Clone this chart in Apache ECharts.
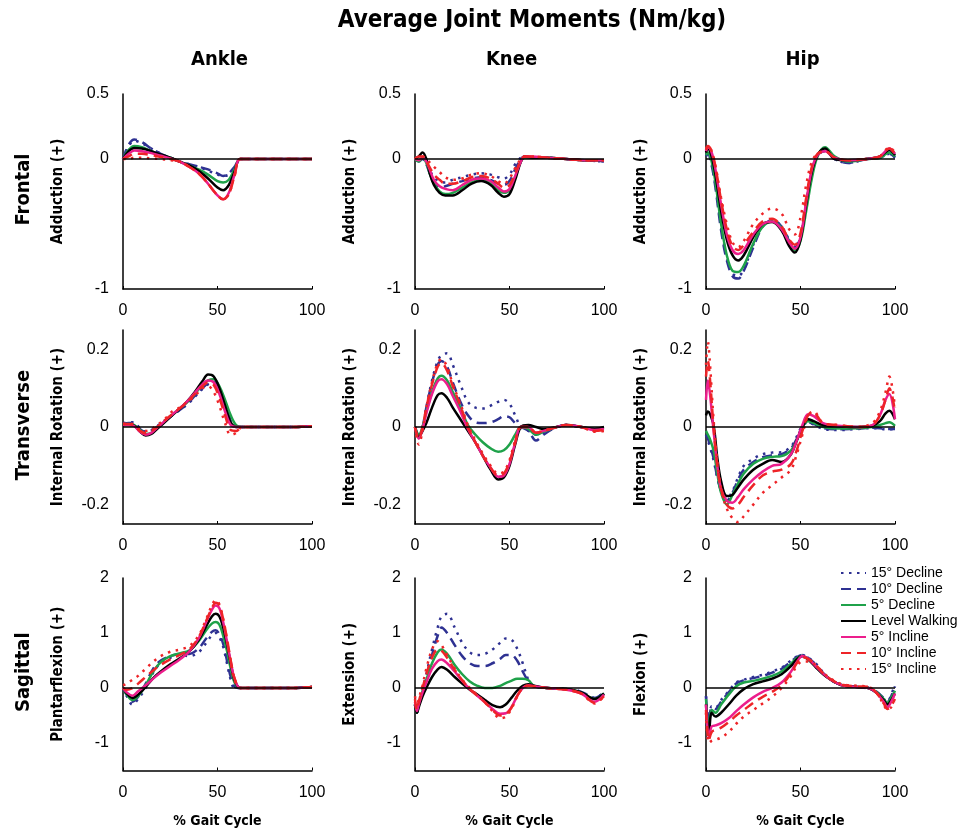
<!DOCTYPE html>
<html>
<head>
<meta charset="utf-8">
<script src="https://cdn.jsdelivr.net/npm/echarts@6/dist/echarts.min.js"></script>
<style>
html, body { margin: 0; padding: 0; background: #fff; }
#chart { width: 970px; height: 832px; }
</style>
</head>
<body>
<div id="chart"></div>
<script>
var dom = document.getElementById("chart");
var myChart = echarts.init(dom);

// series order in every panel
var seriesNames = ['15° Decline', '10° Decline', '5° Decline', 'Level Walking', '5° Incline', '10° Incline', '15° Incline'];

// ---- Ankle, frontal
var xAnkleFrontal = [0, 3, 6, 10, 15, 20, 25, 30, 35, 40, 45, 50, 53, 56, 59, 62, 70, 80, 90, 100];
var ankleFrontal = [
    [0, 0.1, 0.14, 0.12, 0.08, 0.04, 0.01, -0.02, -0.04, -0.06, -0.09, -0.12, -0.13, -0.12, -0.07, 0, 0, 0, 0, 0],
    [0, 0.11, 0.15, 0.13, 0.08, 0.04, 0.01, -0.02, -0.04, -0.06, -0.08, -0.11, -0.13, -0.11, -0.06, 0, 0, 0, 0, 0],
    [0, 0.07, 0.10, 0.09, 0.06, 0.03, 0.01, -0.02, -0.05, -0.08, -0.12, -0.17, -0.18, -0.16, -0.08, 0, 0, 0, 0, 0],
    [0, 0.06, 0.085, 0.08, 0.06, 0.035, 0.01, -0.02, -0.05, -0.09, -0.15, -0.22, -0.24, -0.2, -0.1, 0, 0, 0, 0, 0],
    [0, 0.04, 0.065, 0.06, 0.045, 0.025, 0.005, -0.02, -0.06, -0.11, -0.19, -0.28, -0.31, -0.26, -0.12, 0, 0, 0, 0, 0],
    [0, 0.02, 0.04, 0.04, 0.03, 0.015, 0, -0.02, -0.06, -0.11, -0.19, -0.28, -0.31, -0.27, -0.13, 0, 0, 0, 0, 0],
    [0, 0, 0.01, 0.01, 0.005, 0, -0.01, -0.02, -0.06, -0.11, -0.19, -0.28, -0.31, -0.27, -0.13, 0, 0, 0, 0, 0]
];

// ---- Knee, frontal
var xKneeFrontal = [0, 2, 4, 6, 8, 10, 13, 16, 20, 25, 30, 35, 40, 44, 47, 50, 53, 56, 58, 62, 70, 80, 90, 100];
var kneeFrontal = [
    [0, -0.01, 0, -0.03, -0.09, -0.14, -0.17, -0.18, -0.16, -0.14, -0.12, -0.11, -0.12, -0.14, -0.15, -0.12, -0.04, 0.01, 0.02, 0.01, 0.01, 0, -0.01, -0.02],
    [0, -0.02, 0, -0.04, -0.12, -0.18, -0.22, -0.21, -0.19, -0.17, -0.15, -0.14, -0.16, -0.19, -0.2, -0.17, -0.08, 0, 0.02, 0.01, 0.01, 0, -0.01, -0.02],
    [0, -0.02, 0.01, -0.03, -0.12, -0.19, -0.25, -0.27, -0.26, -0.22, -0.18, -0.16, -0.19, -0.24, -0.26, -0.24, -0.14, -0.02, 0.01, 0.01, 0.01, 0, -0.01, -0.01],
    [0, 0.02, 0.05, 0, -0.12, -0.2, -0.26, -0.28, -0.28, -0.24, -0.19, -0.17, -0.2, -0.26, -0.29, -0.27, -0.16, -0.02, 0.02, 0.01, 0.01, 0, -0.01, -0.01],
    [0, -0.01, 0.01, -0.02, -0.09, -0.16, -0.21, -0.23, -0.24, -0.2, -0.16, -0.15, -0.17, -0.22, -0.25, -0.23, -0.13, -0.02, 0.02, 0.02, 0.01, 0, -0.01, -0.01],
    [0, 0.02, 0.02, -0.02, -0.07, -0.12, -0.16, -0.19, -0.19, -0.17, -0.14, -0.13, -0.15, -0.19, -0.22, -0.2, -0.11, -0.01, 0.02, 0.02, 0.01, 0, -0.01, -0.01],
    [0, 0.02, 0.02, 0, -0.03, -0.06, -0.1, -0.14, -0.16, -0.15, -0.12, -0.11, -0.13, -0.17, -0.19, -0.15, -0.07, 0, 0.02, 0.02, 0.01, 0, -0.01, -0.01]
];

// ---- Hip, frontal
var xHipFrontal = [0, 1, 3, 5, 8, 11, 14, 17, 20, 25, 30, 35, 40, 44, 47, 50, 53, 56, 59, 63, 68, 75, 85, 92, 97, 100];
var hipFrontal = [
    [0.03, 0.05, -0.04, -0.2, -0.52, -0.76, -0.88, -0.9, -0.85, -0.66, -0.51, -0.47, -0.52, -0.62, -0.67, -0.6, -0.35, -0.1, 0.03, 0.06, 0, -0.03, 0, 0.01, 0.04, 0.01],
    [0.02, 0.04, -0.05, -0.22, -0.55, -0.78, -0.9, -0.92, -0.86, -0.68, -0.52, -0.47, -0.52, -0.63, -0.68, -0.6, -0.35, -0.1, 0.03, 0.06, 0, -0.03, 0, 0.01, 0.04, 0.01],
    [0.03, 0.05, -0.02, -0.18, -0.5, -0.74, -0.86, -0.87, -0.82, -0.65, -0.52, -0.48, -0.53, -0.64, -0.7, -0.63, -0.4, -0.15, 0.02, 0.09, 0.02, -0.02, 0, 0.01, 0.05, 0.02],
    [0.05, 0.08, 0.02, -0.12, -0.4, -0.62, -0.74, -0.78, -0.74, -0.6, -0.5, -0.485, -0.55, -0.67, -0.72, -0.62, -0.35, -0.1, 0.03, 0.08, 0, -0.01, 0, 0.02, 0.07, 0.03],
    [0.06, 0.09, 0.05, -0.08, -0.35, -0.58, -0.7, -0.73, -0.7, -0.58, -0.5, -0.48, -0.54, -0.64, -0.69, -0.6, -0.33, -0.08, 0.03, 0.06, 0.01, -0.01, 0, 0.02, 0.08, 0.04],
    [0.07, 0.1, 0.06, -0.06, -0.32, -0.54, -0.67, -0.7, -0.66, -0.56, -0.48, -0.46, -0.52, -0.62, -0.66, -0.57, -0.3, -0.06, 0.04, 0.06, 0.01, -0.01, 0, 0.02, 0.08, 0.04],
    [0.08, 0.1, 0.06, -0.05, -0.3, -0.5, -0.64, -0.68, -0.63, -0.5, -0.42, -0.38, -0.42, -0.54, -0.58, -0.45, -0.2, -0.02, 0.04, 0.06, 0.01, -0.01, 0, 0.02, 0.09, 0.05]
];

// ---- Ankle, transverse
var xAnkleTransverse = [0, 3, 6, 9, 12, 15, 18, 22, 26, 30, 34, 38, 42, 45, 48, 51, 54, 57, 60, 63, 70, 80, 90, 100];
var ankleTransverse = [
    [0.01, 0.012, 0.012, -0.004, -0.012, -0.008, 0.002, 0.016, 0.03, 0.044, 0.058, 0.078, 0.098, 0.11, 0.113, 0.095, 0.055, 0.015, 0, 0, 0, 0, 0, 0.002],
    [0.008, 0.01, 0.01, -0.005, -0.014, -0.01, 0, 0.015, 0.03, 0.044, 0.06, 0.08, 0.1, 0.112, 0.116, 0.1, 0.06, 0.02, 0.002, 0, 0, 0, 0, 0.002],
    [0.005, 0.008, 0.005, -0.008, -0.018, -0.015, -0.003, 0.014, 0.031, 0.047, 0.064, 0.085, 0.108, 0.12, 0.123, 0.105, 0.07, 0.03, 0.004, 0, 0, 0, 0, 0.002],
    [0.005, 0.005, 0.003, -0.012, -0.022, -0.018, -0.005, 0.012, 0.03, 0.047, 0.066, 0.09, 0.118, 0.135, 0.13, 0.1, 0.055, 0.012, 0, 0, 0, 0, 0, 0.002],
    [0.005, 0.005, 0.002, -0.012, -0.02, -0.015, -0.002, 0.015, 0.032, 0.048, 0.066, 0.088, 0.11, 0.12, 0.115, 0.085, 0.04, 0.005, 0, 0, 0, 0, 0, 0.002],
    [0.008, 0.008, 0.003, -0.01, -0.016, -0.01, 0, 0.017, 0.033, 0.048, 0.064, 0.085, 0.105, 0.115, 0.108, 0.075, 0.03, -0.008, -0.01, 0, 0, 0, 0, 0.002],
    [0.008, 0.01, 0.005, -0.005, -0.01, -0.005, 0.005, 0.02, 0.04, 0.05, 0.065, 0.08, 0.1, 0.105, 0.09, 0.055, 0.01, -0.02, -0.015, 0, 0, 0, 0, 0.002]
];

// ---- Knee, transverse
var xKneeTransverse = [0, 2, 4, 6, 9, 12, 14, 17, 20, 24, 28, 32, 36, 40, 44, 47, 50, 53, 56, 60, 64, 68, 75, 80, 88, 95, 100];
var kneeTransverse = [
    [0, -0.02, 0, 0.05, 0.12, 0.17, 0.185, 0.19, 0.16, 0.11, 0.065, 0.05, 0.048, 0.055, 0.065, 0.07, 0.06, 0.03, 0, -0.01, -0.02, -0.015, 0, 0.005, 0, -0.005, -0.005],
    [0, -0.02, 0, 0.05, 0.115, 0.16, 0.17, 0.155, 0.115, 0.065, 0.03, 0.012, 0.01, 0.012, 0.02, 0.028, 0.025, 0.01, 0, -0.01, -0.035, -0.02, 0, 0.005, 0, -0.005, -0.005],
    [0, -0.02, 0, 0.04, 0.09, 0.125, 0.132, 0.12, 0.09, 0.05, 0.005, -0.02, -0.04, -0.055, -0.064, -0.06, -0.045, -0.02, 0, -0.005, -0.02, -0.012, 0, 0.005, 0, -0.005, -0.005],
    [0, -0.025, -0.01, 0.01, 0.05, 0.082, 0.087, 0.075, 0.05, 0.02, -0.01, -0.04, -0.075, -0.11, -0.135, -0.13, -0.1, -0.045, 0, 0.005, 0, -0.005, 0, 0.005, 0, -0.005, 0],
    [0, -0.03, -0.005, 0.035, 0.085, 0.118, 0.123, 0.11, 0.08, 0.04, -0.005, -0.04, -0.075, -0.105, -0.128, -0.125, -0.095, -0.04, 0, 0, -0.015, -0.01, 0, 0.005, 0, -0.008, -0.005],
    [0, -0.03, 0, 0.05, 0.11, 0.155, 0.165, 0.145, 0.105, 0.055, 0, -0.04, -0.075, -0.105, -0.125, -0.12, -0.09, -0.04, 0, 0, -0.015, -0.01, 0, 0.005, 0, -0.01, -0.008],
    [0, -0.045, -0.01, 0.05, 0.115, 0.165, 0.175, 0.155, 0.11, 0.06, 0.005, -0.035, -0.07, -0.1, -0.12, -0.115, -0.085, -0.035, 0, 0, -0.015, -0.01, 0, 0.005, 0, -0.012, -0.01]
];

// ---- Hip, transverse
var xHipTransverse = [0, 1, 2, 4, 6, 8, 11, 14, 17, 20, 25, 30, 35, 40, 45, 48, 51, 54, 57, 62, 70, 80, 88, 92, 95, 97, 100];
var hipTransverse = [
    [-0.02, -0.035, -0.05, -0.085, -0.13, -0.16, -0.185, -0.165, -0.13, -0.1, -0.082, -0.07, -0.066, -0.065, -0.05, -0.025, 0.003, 0.012, 0.006, -0.005, -0.008, -0.005, -0.003, -0.004, -0.006, -0.006, -0.006],
    [-0.02, -0.03, -0.045, -0.08, -0.13, -0.165, -0.19, -0.17, -0.135, -0.11, -0.09, -0.078, -0.073, -0.07, -0.055, -0.03, 0, 0.012, 0.008, -0.003, -0.006, -0.004, -0.002, -0.003, -0.005, -0.005, -0.005],
    [-0.01, -0.02, -0.03, -0.06, -0.12, -0.17, -0.2, -0.175, -0.145, -0.12, -0.095, -0.082, -0.077, -0.075, -0.06, -0.035, 0, 0.015, 0.01, 0, -0.004, -0.003, 0, 0.005, 0.01, 0.012, 0.003],
    [0.03, 0.04, 0.035, 0.005, -0.08, -0.14, -0.178, -0.175, -0.155, -0.135, -0.11, -0.095, -0.085, -0.09, -0.07, -0.035, 0, 0.02, 0.015, 0.005, 0.002, 0, 0.003, 0.015, 0.035, 0.042, 0.02],
    [0.07, 0.12, 0.09, -0.01, -0.1, -0.16, -0.19, -0.195, -0.18, -0.16, -0.135, -0.115, -0.1, -0.095, -0.07, -0.035, 0.005, 0.033, 0.028, 0.01, 0.003, 0, 0.005, 0.03, 0.07, 0.085, 0.02],
    [0.13, 0.17, 0.13, 0, -0.1, -0.16, -0.2, -0.21, -0.2, -0.18, -0.15, -0.125, -0.115, -0.11, -0.095, -0.06, -0.01, 0.03, 0.035, 0.01, 0.005, 0, 0.005, 0.03, 0.07, 0.1, 0.04],
    [0.16, 0.22, 0.17, 0.02, -0.09, -0.16, -0.21, -0.235, -0.245, -0.23, -0.2, -0.17, -0.15, -0.13, -0.11, -0.07, -0.02, 0.03, 0.04, 0.01, 0.005, 0, 0.01, 0.04, 0.09, 0.13, 0.05]
];

// ---- Ankle, sagittal
var xAnkleSagittal = [0, 2, 5, 8, 12, 16, 20, 25, 30, 35, 40, 44, 47, 49, 51, 53, 55, 57, 59, 62, 70, 80, 90, 100];
var ankleSagittal = [
    [0, -0.15, -0.3, -0.2, 0, 0.28, 0.46, 0.55, 0.6, 0.58, 0.65, 0.82, 0.96, 1.0, 0.92, 0.75, 0.45, 0.15, 0, 0, 0, 0, 0, 0.02],
    [0, -0.13, -0.25, -0.16, 0.08, 0.35, 0.5, 0.58, 0.62, 0.62, 0.72, 0.9, 1.02, 1.05, 0.98, 0.8, 0.5, 0.2, 0.03, 0, 0, 0, 0, 0.02],
    [0, -0.12, -0.22, -0.15, 0.05, 0.3, 0.47, 0.58, 0.63, 0.68, 0.85, 1.05, 1.17, 1.2, 1.15, 0.95, 0.68, 0.35, 0.1, 0, 0, 0, 0, 0.02],
    [0, -0.1, -0.18, -0.12, 0.02, 0.18, 0.3, 0.43, 0.54, 0.66, 0.87, 1.12, 1.3, 1.35, 1.3, 1.1, 0.8, 0.45, 0.15, 0, 0, 0, 0, 0.02],
    [0, -0.08, -0.14, -0.06, 0.05, 0.17, 0.28, 0.4, 0.52, 0.66, 0.9, 1.2, 1.42, 1.5, 1.45, 1.2, 0.85, 0.48, 0.17, 0, 0, 0, 0, 0.02],
    [0, -0.03, 0, 0.08, 0.2, 0.32, 0.42, 0.52, 0.6, 0.7, 0.92, 1.22, 1.45, 1.55, 1.5, 1.25, 0.9, 0.5, 0.18, 0, 0, 0, 0, 0.02],
    [0.05, 0.08, 0.15, 0.22, 0.35, 0.48, 0.58, 0.66, 0.7, 0.76, 0.95, 1.25, 1.5, 1.6, 1.52, 1.25, 0.88, 0.48, 0.15, 0, 0, 0, 0, 0.02]
];

// ---- Knee, sagittal
var xKneeSagittal = [0, 1, 2, 4, 6, 9, 12, 14, 17, 21, 25, 29, 33, 37, 41, 45, 48, 51, 54, 57, 60, 63, 70, 80, 88, 95, 100];
var kneeSagittal = [
    [-0.3, -0.45, -0.3, -0.05, 0.25, 0.7, 1.1, 1.3, 1.35, 1.1, 0.82, 0.65, 0.6, 0.62, 0.7, 0.82, 0.9, 0.88, 0.72, 0.45, 0.15, 0.03, 0, -0.02, -0.07, -0.18, -0.08],
    [-0.3, -0.45, -0.3, -0.05, 0.2, 0.6, 0.95, 1.1, 1.0, 0.78, 0.58, 0.45, 0.4, 0.4, 0.45, 0.53, 0.6, 0.6, 0.5, 0.3, 0.12, 0.03, 0, -0.02, -0.07, -0.18, -0.08],
    [-0.3, -0.45, -0.3, -0.05, 0.15, 0.45, 0.65, 0.7, 0.62, 0.42, 0.25, 0.12, 0.04, 0, 0, 0.04, 0.09, 0.13, 0.17, 0.17, 0.14, 0.04, 0, -0.02, -0.08, -0.2, -0.1],
    [-0.3, -0.45, -0.35, -0.15, 0, 0.2, 0.34, 0.38, 0.33, 0.2, 0.08, -0.03, -0.12, -0.22, -0.31, -0.35, -0.3, -0.18, -0.05, 0.04, 0.07, 0.04, 0, -0.02, -0.08, -0.2, -0.1],
    [-0.25, -0.42, -0.3, -0.08, 0.1, 0.35, 0.49, 0.52, 0.45, 0.3, 0.13, -0.02, -0.14, -0.26, -0.38, -0.47, -0.46, -0.35, -0.15, 0, 0.05, 0.03, 0, -0.03, -0.1, -0.25, -0.12],
    [-0.2, -0.4, -0.25, 0, 0.25, 0.55, 0.7, 0.68, 0.55, 0.33, 0.14, -0.02, -0.14, -0.26, -0.4, -0.5, -0.48, -0.36, -0.15, 0, 0.04, 0.03, 0, -0.03, -0.1, -0.27, -0.15],
    [-0.15, -0.35, -0.2, 0.05, 0.35, 0.7, 0.85, 0.78, 0.6, 0.35, 0.15, 0, -0.13, -0.26, -0.42, -0.55, -0.52, -0.38, -0.16, 0, 0.04, 0.03, 0, -0.03, -0.1, -0.28, -0.15]
];

// ---- Hip, sagittal
var xHipSagittal = [0, 1.5, 3, 5, 8, 12, 16, 20, 25, 30, 35, 40, 45, 48, 51, 54, 58, 62, 66, 72, 80, 86, 90, 94, 96, 98, 100];
var hipSagittal = [
    [-0.15, -0.62, -0.33, -0.36, -0.22, -0.06, 0.1, 0.15, 0.2, 0.24, 0.3, 0.37, 0.5, 0.57, 0.6, 0.55, 0.45, 0.28, 0.15, 0.05, 0.02, -0.01, -0.07, -0.2, -0.25, -0.12, 0.06],
    [-0.15, -0.65, -0.35, -0.38, -0.25, -0.08, 0.08, 0.14, 0.18, 0.22, 0.28, 0.35, 0.48, 0.56, 0.6, 0.55, 0.43, 0.27, 0.15, 0.05, 0.02, 0, -0.06, -0.18, -0.25, -0.15, 0.03],
    [-0.2, -0.7, -0.4, -0.45, -0.3, -0.12, 0.03, 0.1, 0.13, 0.17, 0.22, 0.3, 0.44, 0.54, 0.58, 0.52, 0.4, 0.26, 0.15, 0.05, 0.02, 0, -0.07, -0.2, -0.27, -0.18, -0.05],
    [-0.3, -0.85, -0.45, -0.52, -0.45, -0.3, -0.14, -0.02, 0.07, 0.12, 0.17, 0.25, 0.4, 0.52, 0.58, 0.52, 0.38, 0.25, 0.15, 0.05, 0.02, 0, -0.08, -0.22, -0.3, -0.22, -0.1],
    [-0.3, -0.9, -0.7, -0.68, -0.64, -0.55, -0.42, -0.3, -0.17, -0.07, 0, 0.1, 0.3, 0.47, 0.58, 0.53, 0.4, 0.26, 0.15, 0.05, 0.02, 0, -0.08, -0.25, -0.35, -0.25, -0.1],
    [-0.4, -0.95, -0.8, -0.76, -0.72, -0.62, -0.5, -0.4, -0.27, -0.16, -0.07, 0.05, 0.27, 0.45, 0.56, 0.53, 0.42, 0.27, 0.16, 0.06, 0.03, 0.02, -0.08, -0.28, -0.38, -0.32, -0.2],
    [-0.45, -1.0, -0.96, -0.94, -0.9, -0.8, -0.65, -0.52, -0.4, -0.28, -0.16, 0, 0.22, 0.4, 0.48, 0.48, 0.42, 0.28, 0.17, 0.07, 0.04, 0.02, -0.08, -0.3, -0.4, -0.35, -0.25]
];

// axis labels
var rowTicks = [[0.5, 0, -1], [0.2, 0, -0.2], [2, 1, 0, -1]];
var rowNames = ['Frontal', 'Transverse', 'Sagittal'];
var colNames = ['Ankle', 'Knee', 'Hip'];
var yNames = [
    ['Adduction (+)', 'Adduction (+)', 'Adduction (+)'],
    ['Internal Rotation (+)', 'Internal Rotation (+)', 'Internal Rotation (+)'],
    ['Plantarflexion (+)', 'Extension (+)', 'Flexion (+)']
];

// panel layout
var colLeft = [123, 415, 706];
var colWidth = 189;
var rowTop = [94, 330, 578];
var rowHeight = [195, 194, 192.5];
var rowMin = [-1, -0.25, -1.5];
var rowMax = [0.5, 0.25, 2];
var rowStep = [0.5, 0.05, 0.5];

var lineColors = ['#2e3192', '#2e3192', '#1fa24a', '#000000', '#ec1e8c', '#ee2428', '#ee2428'];
var lineTypes = [[2.5, 5.5], [10, 6], 'solid', 'solid', 'solid', [10, 6], [2.5, 5.5]];

var panels = [
    [xAnkleFrontal, ankleFrontal], [xKneeFrontal, kneeFrontal], [xHipFrontal, hipFrontal],
    [xAnkleTransverse, ankleTransverse], [xKneeTransverse, kneeTransverse], [xHipTransverse, hipTransverse],
    [xAnkleSagittal, ankleSagittal], [xKneeSagittal, kneeSagittal], [xHipSagittal, hipSagittal]
];

var labelFont = "'Liberation Sans', Arial, sans-serif";
var boldFont = "'Liberation Sans Narrow', 'DejaVu Sans Condensed', 'Liberation Sans', Arial, sans-serif";

var grids = [], xAxes = [], yAxes = [], series = [], graphics = [];

for (var p = 0; p < 9; p++) {
    var r = Math.floor(p / 3), c = p % 3;
    grids.push({left: colLeft[c], top: rowTop[r], width: colWidth, height: rowHeight[r]});
    xAxes.push({
        type: 'value', gridIndex: p, min: 0, max: 100, interval: 50,
        axisLine: {onZero: false, lineStyle: {color: '#000', width: 1.5}},
        axisTick: {show: true, inside: true, length: 3, lineStyle: {color: '#000'}},
        splitLine: {show: false},
        axisLabel: {color: '#000', fontSize: 16, fontFamily: labelFont, margin: 14},
        name: r === 2 ? '% Gait Cycle' : '',
        nameLocation: 'middle', nameGap: 44, nameMoveOverlap: false,
        nameTextStyle: {color: '#000', fontSize: 14, fontWeight: 'bold', fontFamily: boldFont}
    });
    (function (ticks) {
        yAxes.push({
            type: 'value', gridIndex: p, min: rowMin[r], max: rowMax[r], interval: rowStep[r],
            axisLine: {show: true, lineStyle: {color: '#000', width: 1.5}},
            axisTick: {show: false},
            splitLine: {show: false},
            axisLabel: {
                color: '#000', fontSize: 16, fontFamily: labelFont, margin: 14,
                formatter: function (v) {
                    for (var k = 0; k < ticks.length; k++) {
                        if (Math.abs(ticks[k] - v) < 1e-6) return String(ticks[k]);
                    }
                    return '';
                }
            },
            name: yNames[r][c], nameLocation: 'middle', nameGap: 57, nameMoveOverlap: false,
            nameTextStyle: {color: '#000', fontSize: 15, fontWeight: 'bold', fontFamily: boldFont}
        });
    })(rowTicks[r]);

    var xs = panels[p][0], ys = panels[p][1];
    for (var s = 0; s < 7; s++) {
        var pts = [];
        for (var i = 0; i < xs.length; i++) pts.push([xs[i], ys[s][i]]);
        var ser = {
            name: seriesNames[s], type: 'line', xAxisIndex: p, yAxisIndex: p,
            data: pts, smooth: 0.35, symbol: 'none',
            lineStyle: {color: lineColors[s], width: 2.5, type: lineTypes[s]},
            itemStyle: {color: lineColors[s]}
        };
        if (s === 0) {
            ser.markLine = {
                silent: true, symbol: ['none', 'none'], label: {show: false},
                lineStyle: {color: '#000', width: 1.5, type: 'solid'},
                data: [{yAxis: 0}]
            };
        }
        series.push(ser);
    }
}

for (var c2 = 0; c2 < 3; c2++) {
    graphics.push({
        type: 'text', x: colLeft[c2] + colWidth / 2 + 2, y: 60,
        style: {text: colNames[c2], font: 'bold 20px ' + boldFont, fill: '#000', align: 'center', verticalAlign: 'middle'}
    });
}
for (var r2 = 0; r2 < 3; r2++) {
    graphics.push({
        type: 'text', x: 24, y: rowTop[r2] + rowHeight[r2] / 2 - 2, rotation: Math.PI / 2,
        style: {text: rowNames[r2], font: 'bold 20px ' + boldFont, fill: '#000', align: 'center', verticalAlign: 'middle'}
    });
}

option = {
    backgroundColor: '#fff',
    animation: false,
    title: {
        text: 'Average Joint Moments (Nm/kg)',
        left: 527, top: 4, textAlign: 'center',
        textStyle: {color: '#000', fontSize: 24, fontWeight: 'bold', fontFamily: boldFont}
    },
    legend: {
        data: seriesNames,
        orient: 'vertical', left: 835, top: 561,
        itemWidth: 25, itemHeight: 12, itemGap: 2,
        itemStyle: {opacity: 0, borderWidth: 0},
        textStyle: {color: '#000', fontSize: 14, fontFamily: labelFont, lineHeight: 13}
    },
    graphic: graphics,
    grid: grids,
    xAxis: xAxes,
    yAxis: yAxes,
    series: series
};

if (option && typeof option === "object") {
    myChart.setOption(option, true);
}
</script>
</body>
</html>
